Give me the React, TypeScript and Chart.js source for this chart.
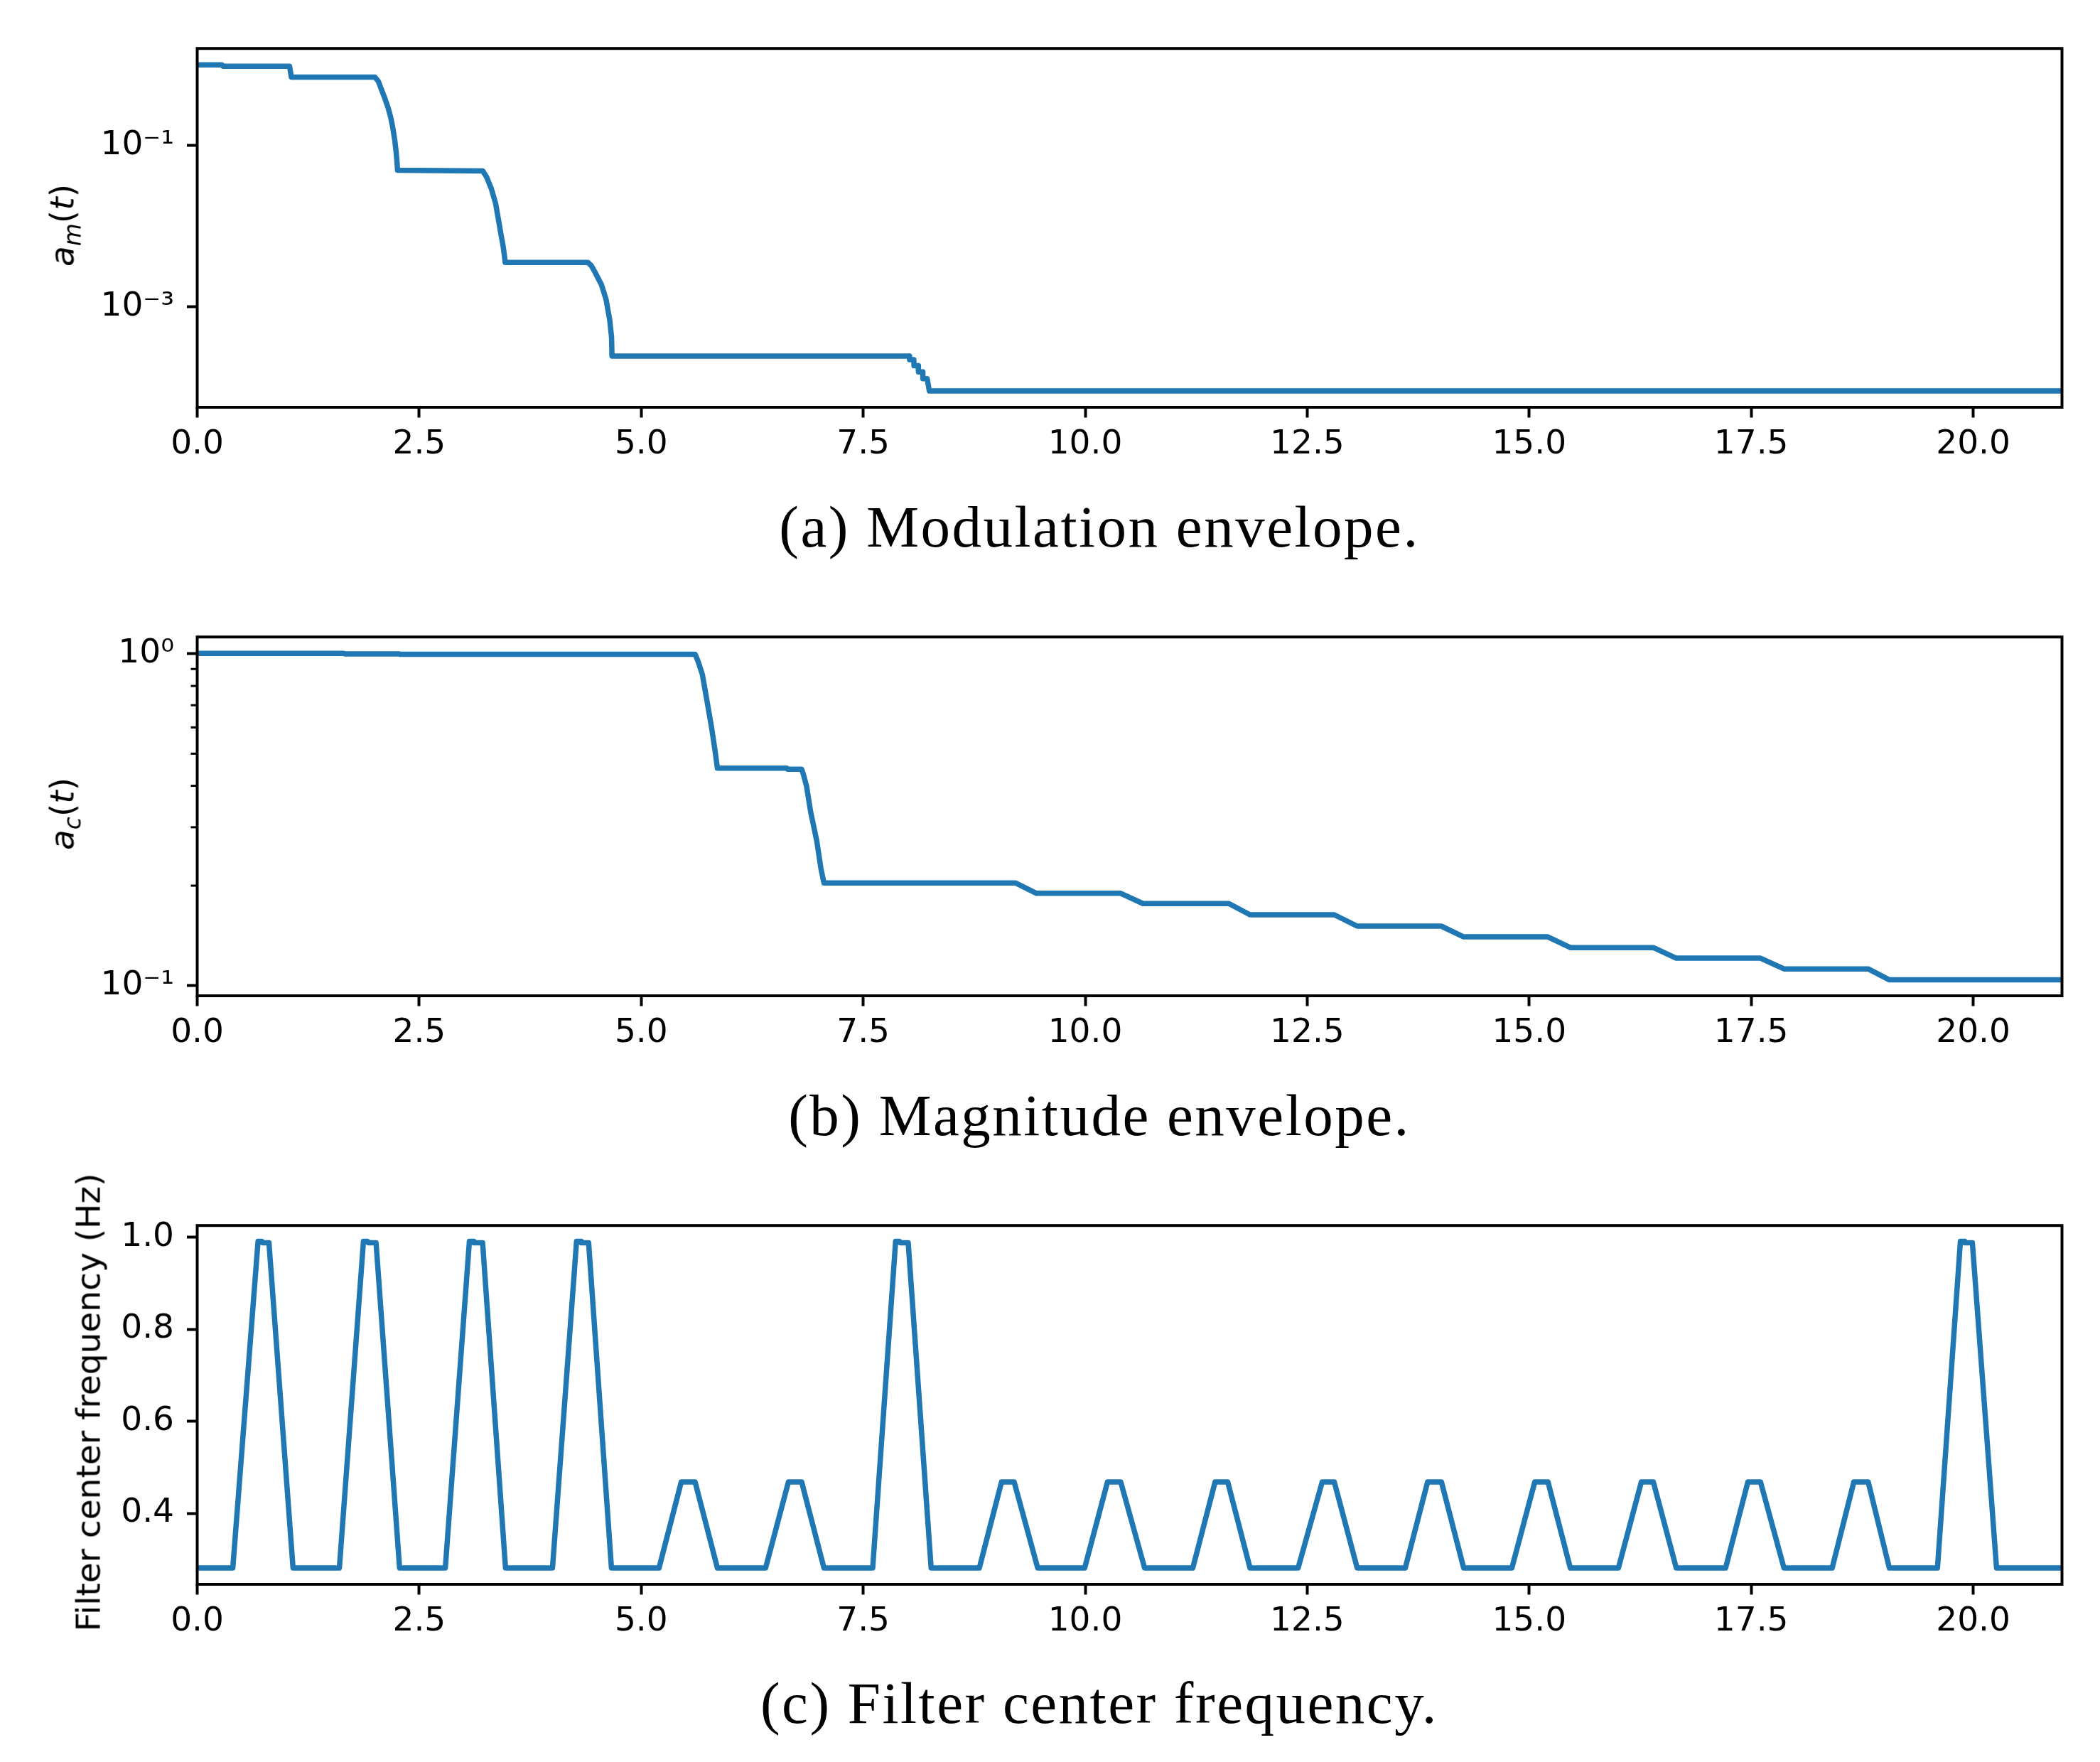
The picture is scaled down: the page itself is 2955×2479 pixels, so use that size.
import React, { useEffect, useRef } from 'react';
import { Chart, registerables } from 'chart.js';

Chart.register(...registerables);

// ---------- data ----------
const xTicks = [0, 2.5, 5, 7.5, 10, 12.5, 15, 17.5, 20];
const xTickLabels = ['0.0', '2.5', '5.0', '7.5', '10.0', '12.5', '15.0', '17.5', '20.0'];

// (a) modulation envelope a_m(t)
const tA = [0, 0.28, 0.29, 1.04, 1.06, 2.0, 2.04, 2.077, 2.11, 2.149, 2.18, 2.203, 2.225, 2.239, 2.25, 2.256,
  3.2, 3.216, 3.26, 3.313, 3.36, 3.395, 3.42, 3.445, 3.46, 3.468,
  4.40, 4.44, 4.477, 4.553, 4.604, 4.645, 4.666, 4.671,
  8.02, 8.022, 8.07, 8.072, 8.12, 8.122, 8.17, 8.172, 8.22, 8.245, 21];
const aM = [0.995, 0.995, 0.955, 0.955, 0.70, 0.70, 0.62, 0.484, 0.39, 0.294, 0.22, 0.164, 0.115, 0.0847, 0.062, 0.049,
  0.048, 0.048, 0.0402, 0.0288, 0.0191, 0.01156, 0.00794, 0.00562, 0.00427, 0.00353,
  0.00353, 0.0032, 0.00271, 0.00186, 0.00123, 0.00069, 0.000419, 0.000244,
  0.000244, 0.00022, 0.00022, 0.000185, 0.000185, 0.000155, 0.000155, 0.000128, 0.000128, 0.00009, 0.00009];
const yTicksA = [1e-3, 1e-1];
const yTickLabelsA = ['10\u207B\u00B3', '10\u207B\u00B9'];

// (b) magnitude envelope a_c(t)
const tB = [0, 1.65, 1.66, 2.27, 2.28, 5.607, 5.64, 5.689, 5.736, 5.791, 5.831, 5.858,
  6.64, 6.65, 6.807, 6.83, 6.862, 6.909, 6.977, 7.025, 7.058,
  9.214, 9.451, 10.40, 10.65, 11.618, 11.856, 12.805, 13.063, 14.01, 14.262, 15.21, 15.463,
  16.398, 16.656, 17.605, 17.869, 18.818, 19.056, 21];
const aC = [1.003, 1.003, 1.0, 1.0, 0.997, 0.997, 0.95, 0.866, 0.734, 0.603, 0.512, 0.452,
  0.452, 0.449, 0.449, 0.43, 0.399, 0.333, 0.273, 0.2244, 0.2038,
  0.2038, 0.1896, 0.1896, 0.1766, 0.1766, 0.1634, 0.1634, 0.151, 0.151, 0.1402, 0.1402, 0.1301,
  0.1301, 0.1209, 0.1209, 0.1122, 0.1122, 0.104, 0.104];
const yTicksB = [0.1, 1];
const yTickLabelsB = ['10\u207B\u00B9', '10\u2070'];
const yMinorB = [0.2, 0.3, 0.4, 0.5, 0.6, 0.7, 0.8, 0.9];

// (c) filter center frequency (Hz)
const tC = [0, 0.401, 0.685, 0.73, 0.735, 0.808, 1.079,
  1.601, 1.872, 1.92, 1.925, 2.014, 2.279,
  2.794, 3.065, 3.11, 3.115, 3.214, 3.472,
  4.001, 4.272, 4.32, 4.325, 4.408, 4.665,
  5.201, 5.451, 5.607, 5.858,
  6.401, 6.658, 6.807, 7.058,
  7.607, 7.865, 7.91, 7.915, 8.007, 8.265,
  8.808, 9.058, 9.2, 9.465,
  9.994, 10.251, 10.4, 10.669,
  11.212, 11.463, 11.605, 11.856,
  12.398, 12.669, 12.805, 13.063,
  13.605, 13.856, 14.012, 14.262,
  14.805, 15.063, 15.212, 15.463,
  16.005, 16.263, 16.398, 16.656,
  17.212, 17.463, 17.605, 17.869,
  18.412, 18.656, 18.818, 19.056,
  19.598, 19.856, 19.9, 19.905, 19.991, 20.263,
  21];
const fC = [0.281, 0.281, 0.991, 0.991, 0.988, 0.988, 0.281,
  0.281, 0.991, 0.991, 0.988, 0.988, 0.281,
  0.281, 0.991, 0.991, 0.988, 0.988, 0.281,
  0.281, 0.991, 0.991, 0.988, 0.988, 0.281,
  0.281, 0.468, 0.468, 0.281,
  0.281, 0.468, 0.468, 0.281,
  0.281, 0.991, 0.991, 0.988, 0.988, 0.281,
  0.281, 0.468, 0.468, 0.281,
  0.281, 0.468, 0.468, 0.281,
  0.281, 0.468, 0.468, 0.281,
  0.281, 0.468, 0.468, 0.281,
  0.281, 0.468, 0.468, 0.281,
  0.281, 0.468, 0.468, 0.281,
  0.281, 0.468, 0.468, 0.281,
  0.281, 0.468, 0.468, 0.281,
  0.281, 0.468, 0.468, 0.281,
  0.281, 0.991, 0.991, 0.988, 0.988, 0.281,
  0.281];
const yTicksC = [0.4, 0.6, 0.8, 1.0];
const yTickLabelsC = ['0.4', '0.6', '0.8', '1.0'];

const captions = ['(a) Modulation envelope.', '(b) Magnitude envelope.', '(c) Filter center frequency.'];

// ---------- layout ----------
const FIG_W = 2955;
const FIG_H = 2479;
const AX_LEFT = 277.5;
const AX_RIGHT = 2901.5;
const AX_H = 511;
const AX_TOPS = [61.5, 889.5, 1717.5];
const PAD_TOP = 40;
const XAXIS_H = 110;
const TICK_FONT = 47;
const LINE_COLOR = '#1f77b4';
const CAPTION_X = 1547;
const CAPTION_BASELINES = [769, 1597, 2424];

const framePlugin = {
  id: 'frame',
  afterDatasetsDraw(chart: any) {
    const { ctx, chartArea: a } = chart;
    ctx.save();
    ctx.strokeStyle = '#000';
    ctx.lineWidth = 4;
    ctx.strokeRect(a.left, a.top, a.right - a.left, a.bottom - a.top);
    ctx.restore();
  },
};

const minorTickPlugin = {
  id: 'minorTicks',
  afterDraw(chart: any, _args: any, opts: any) {
    const vals: number[] = (opts && opts.values) || [];
    if (!vals.length) return;
    const y = chart.scales.y;
    const left = chart.chartArea.left;
    const ctx = chart.ctx;
    ctx.save();
    ctx.strokeStyle = '#000';
    ctx.lineWidth = 3;
    vals.forEach((v) => {
      const py = y.getPixelForValue(v);
      ctx.beginPath();
      ctx.moveTo(left - 9, py);
      ctx.lineTo(left, py);
      ctx.stroke();
    });
    ctx.restore();
  },
};

type PanelProps = {
  top: number;
  xs: number[];
  ys: number[];
  yType: 'linear' | 'logarithmic';
  yMin: number;
  yMax: number;
  yTicks: number[];
  yTickLabels: string[];
  yMinor?: number[];
};

function Panel(p: PanelProps) {
  const ref = useRef<HTMLCanvasElement | null>(null);
  const canvasH = PAD_TOP + AX_H + XAXIS_H;
  useEffect(() => {
    if (!ref.current) return;
    const chart = new Chart(ref.current, {
      type: 'line',
      data: {
        datasets: [
          {
            data: p.xs.map((x, i) => ({ x, y: p.ys[i] })),
            borderColor: LINE_COLOR,
            borderWidth: 7.5,
            pointRadius: 0,
            pointHoverRadius: 0,
            fill: false,
            tension: 0,
            borderJoinStyle: 'round',
          } as any,
        ],
      },
      options: {
        animation: false,
        responsive: false,
        devicePixelRatio: 1,
        events: [],
        layout: { padding: { left: 0, right: FIG_W - AX_RIGHT, top: PAD_TOP, bottom: 0 } },
        plugins: {
          legend: { display: false },
          tooltip: { enabled: false },
          title: { display: false },
          minorTicks: { values: p.yMinor || [] },
        } as any,
        scales: {
          x: {
            type: 'linear',
            min: 0,
            max: 21,
            bounds: 'data',
            afterBuildTicks: (s: any) => {
              s.ticks = xTicks.map((v) => ({ value: v }));
            },
            afterFit: (s: any) => {
              s.height = XAXIS_H;
            },
            ticks: {
              autoSkip: false,
              maxRotation: 0,
              minRotation: 0,
              padding: 10,
              color: '#000',
              font: { family: 'DejaVu Sans', size: TICK_FONT },
              callback: (_v: any, i: number) => xTickLabels[i] ?? '',
            },
            grid: { drawOnChartArea: false, drawTicks: true, tickLength: 14.5, tickWidth: 4, tickColor: '#000' },
            border: { display: false },
          },
          y: {
            type: p.yType,
            min: p.yMin,
            max: p.yMax,
            bounds: 'data',
            afterBuildTicks: (s: any) => {
              s.ticks = p.yTicks.map((v) => ({ value: v }));
            },
            afterFit: (s: any) => {
              s.width = AX_LEFT;
            },
            ticks: {
              autoSkip: false,
              padding: 18,
              color: '#000',
              font: { family: 'DejaVu Sans', size: TICK_FONT },
              callback: (_v: any, i: number) => p.yTickLabels[i] ?? '',
            },
            grid: { drawOnChartArea: false, drawTicks: true, tickLength: 14.5, tickWidth: 4, tickColor: '#000' },
            border: { display: false },
          } as any,
        },
      } as any,
      plugins: [framePlugin, minorTickPlugin],
    });
    return () => chart.destroy();
  }, []);
  return (
    <canvas
      ref={ref}
      width={FIG_W}
      height={canvasH}
      style={{ position: 'absolute', left: 0, top: p.top - PAD_TOP, width: FIG_W, height: canvasH, display: 'block' }}
    />
  );
}

function YTitle({ cx, cy, children }: { cx: number; cy: number; children: React.ReactNode }) {
  return (
    <div
      style={{
        position: 'absolute',
        left: cx,
        top: cy,
        transform: 'translate(-50%, -50%) rotate(-90deg)',
        whiteSpace: 'nowrap',
        fontFamily: 'DejaVu Sans',
        fontSize: TICK_FONT,
        lineHeight: 'normal',
        color: '#000',
      }}
    >
      {children}
    </div>
  );
}

function Caption({ baseline, text }: { baseline: number; text: string }) {
  return (
    <div
      style={{
        position: 'absolute',
        left: CAPTION_X,
        top: baseline - 78,
        transform: 'translateX(-50%)',
        whiteSpace: 'nowrap',
        fontFamily: 'Liberation Serif',
        fontSize: 83,
        lineHeight: '100px',
        letterSpacing: '2.5px',
        color: '#000',
      }}
    >
      {text}
    </div>
  );
}

const it: React.CSSProperties = { fontStyle: 'italic' };
const sub: React.CSSProperties = { fontStyle: 'italic', fontSize: '0.7em', position: 'relative', top: '0.3em' };

export default function App() {
  const mid = (i: number) => AX_TOPS[i] + AX_H / 2;
  return (
    <div
      style={{
        position: 'absolute',
        left: 0,
        top: 0,
        width: FIG_W,
        height: FIG_H,
        background: '#fff',
        overflow: 'hidden',
      }}
    >
      <Panel top={AX_TOPS[0]} xs={tA} ys={aM} yType="logarithmic" yMin={5.65e-5} yMax={1.585}
        yTicks={yTicksA} yTickLabels={yTickLabelsA} />
      <Panel top={AX_TOPS[1]} xs={tB} ys={aC} yType="logarithmic" yMin={0.0931} yMax={1.124}
        yTicks={yTicksB} yTickLabels={yTickLabelsB} yMinor={yMinorB} />
      <Panel top={AX_TOPS[2]} xs={tC} ys={fC} yType="linear" yMin={0.2455} yMax={1.0255}
        yTicks={yTicksC} yTickLabels={yTickLabelsC} />

      <YTitle cx={87} cy={mid(0)}>
        <span style={it}>a</span><span style={sub}>m</span>(<span style={it}>t</span>)
      </YTitle>
      <YTitle cx={87} cy={mid(1)}>
        <span style={it}>a</span><span style={sub}>c</span>(<span style={it}>t</span>)
      </YTitle>
      <YTitle cx={124} cy={mid(2)}>Filter center frequency (Hz)</YTitle>

      {captions.map((c, i) => (
        <Caption key={i} baseline={CAPTION_BASELINES[i]} text={c} />
      ))}
    </div>
  );
}
